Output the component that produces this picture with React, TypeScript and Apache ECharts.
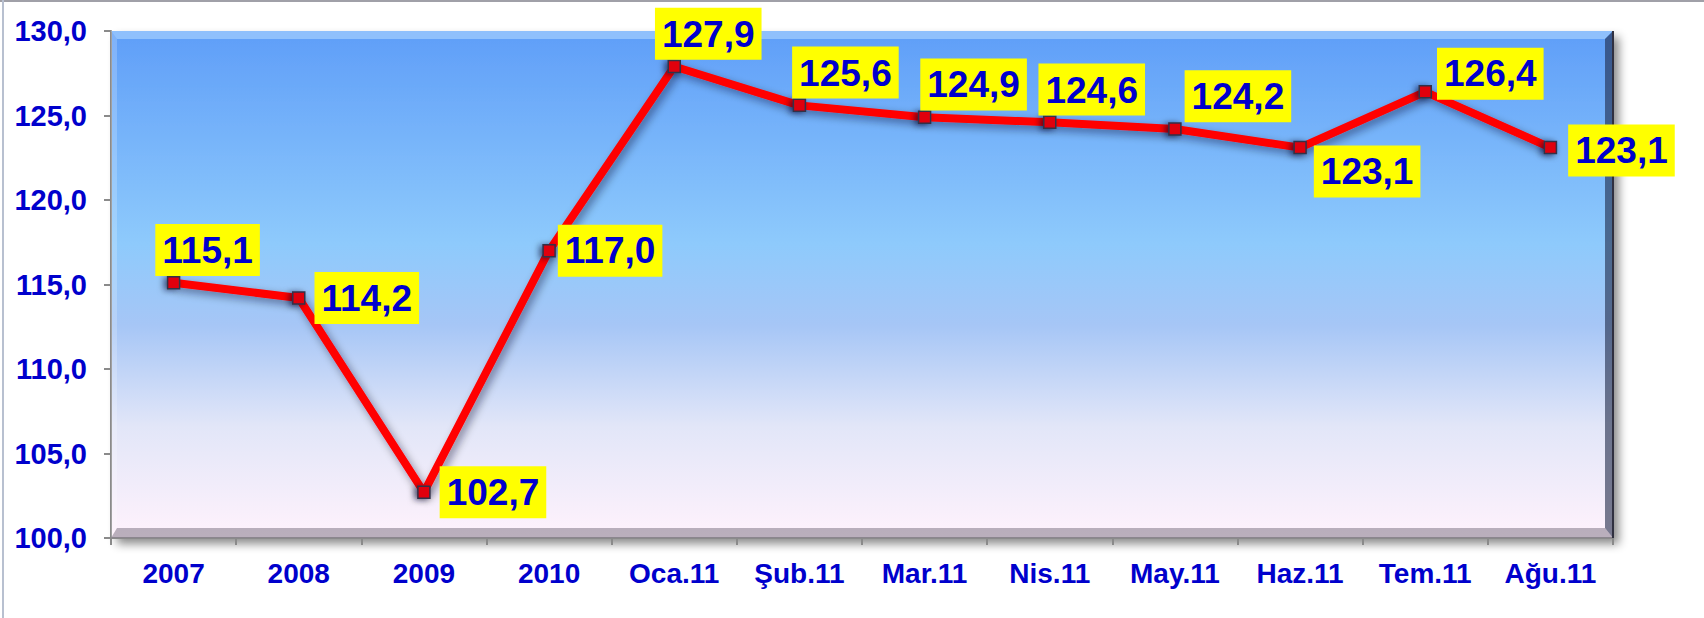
import React, { useEffect, useRef } from "react";
import * as echarts from "echarts";

const categories = ["2007", "2008", "2009", "2010", "Oca.11", "Şub.11", "Mar.11", "Nis.11", "May.11", "Haz.11", "Tem.11", "Ağu.11"];
const values = [115.1, 114.2, 102.7, 117.0, 127.9, 125.6, 124.9, 124.6, 124.2, 123.1, 126.4, 123.1];
const labelPlacement = ["top", "right", "right", "right", "top", "top", "top", "top", "top", "right", "right", "right"];
const labelShift: [number, number][] = [[34, 0], [0, 0], [0, 0], [-7, 0], [34, 0], [46, 0], [49, 0], [42, 0], [63, 0], [-2, 24], [-4, -18], [2, 3]];
const yTicks = { min: 100, max: 130, interval: 5 };

const fmt = (v: number) => v.toFixed(1).replace(".", ",");
const FONT = "'Liberation Sans', Arial, sans-serif";
const BLUE = "#0000CC";

function labelFor(kind: string) {
  return {
    show: true,
    color: BLUE,
    fontFamily: FONT,
    fontWeight: "bold",
    fontSize: 37,
    backgroundColor: "#FFFF00",
    padding: [7, 7, 6, 7],
    lineHeight: 39,
    position: kind,
    distance: kind === "top" ? 0 : 9,
    formatter: (p: any) => fmt(p.value),
  };
}

export default function App() {
  const ref = useRef<HTMLDivElement>(null);
  useEffect(() => {
    if (!ref.current) return;
    const chart = echarts.init(ref.current, undefined, { renderer: "svg" });
    const data = values.map((v, i) => ({ value: v, label: labelFor(labelPlacement[i]) }));
    const L = 111, T = 31, R = 1613, B = 538;
    chart.setOption({
      animation: false,
      backgroundColor: "#ffffff",
      grid: {
        left: L,
        top: T,
        right: 1704 - R,
        bottom: 618 - B,
        show: true,
        borderColor: "#8a8a90",
        borderWidth: 0,
        backgroundColor: new echarts.graphic.LinearGradient(0, 0, 0, 1, [
          { offset: 0, color: "#5f9ef8" },
          { offset: 0.42, color: "#8ecafc" },
          { offset: 0.58, color: "#a6c6f6" },
          { offset: 0.78, color: "#e2e6f8" },
          { offset: 1, color: "#fff2fc" },
        ]),
        shadowColor: "rgba(0,0,0,0.45)",
        shadowBlur: 10,
        shadowOffsetX: 6,
        shadowOffsetY: 6,
      },
      graphic: [
        { type: "line", shape: { x1: 0, y1: 1, x2: 1704, y2: 1 }, style: { stroke: "#a0a0a8", lineWidth: 2 } },
        { type: "line", shape: { x1: 3, y1: 0, x2: 3, y2: 618 }, style: { stroke: "#b8c0d0", lineWidth: 2 } },
        { type: "polygon", shape: { points: [[L, T], [R, T], [R - 8, T + 8], [L + 6, T + 8]] }, style: { fill: "rgba(175,215,255,0.6)" }, z: 1 },
        { type: "polygon", shape: { points: [[L, T], [L + 6, T + 8], [L + 6, B - 10], [L, B]] }, style: { fill: "rgba(255,255,255,0.2)" }, z: 1 },
        { type: "polygon", shape: { points: [[L, B], [L + 6, B - 10], [R - 8, B - 10], [R, B]] }, style: { fill: "rgba(140,130,145,0.6)" }, z: 1 },
        { type: "polygon", shape: { points: [[R, T], [R, B], [R - 8, B - 10], [R - 8, T + 8]] }, style: { fill: "rgba(30,40,70,0.6)" }, z: 1 },
        { type: "line", shape: { x1: R, y1: T, x2: R, y2: B }, style: { stroke: "#303040", lineWidth: 2 }, z: 1 },
      ],
      xAxis: {
        type: "category",
        data: categories,
        boundaryGap: true,
        axisLine: { show: true, lineStyle: { color: "#8a8a8a", width: 2 } },
        axisTick: { show: true, length: 7, lineStyle: { color: "#8a8a8a", width: 2 } },
        axisLabel: { color: BLUE, fontFamily: FONT, fontWeight: "bold", fontSize: 28, margin: 21 },
        splitLine: { show: false },
      },
      yAxis: {
        type: "value",
        min: yTicks.min,
        max: yTicks.max,
        interval: yTicks.interval,
        axisLine: { show: true, lineStyle: { color: "#8a8a8a", width: 2 } },
        axisTick: { show: true, length: 7, lineStyle: { color: "#8a8a8a", width: 2 } },
        axisLabel: { color: BLUE, fontFamily: FONT, fontWeight: "bold", fontSize: 29, margin: 24, formatter: (v: number) => fmt(v) },
        splitLine: { show: false },
      },
      series: [
        {
          type: "line",
          data,
          symbol: "rect",
          symbolSize: 12,
          z: 5,
          lineStyle: {
            color: "#ff0000",
            width: 8,
            shadowColor: "rgba(0,0,40,0.45)",
            shadowBlur: 8,
            shadowOffsetX: 3,
            shadowOffsetY: 4,
          },
          itemStyle: {
            color: "#e00010",
            borderColor: "#303048",
            borderWidth: 1.5,
            shadowColor: "rgba(0,0,40,0.6)",
            shadowBlur: 6,
            shadowOffsetX: -3,
            shadowOffsetY: 1,
          },
          labelLayout: (p: any) => {
            const s = labelShift[p.dataIndex] || [0, 0];
            return { dx: s[0], dy: s[1], hideOverlap: false };
          },
        },
      ],
    });
    return () => chart.dispose();
  }, []);
  return <div ref={ref} style={{ position: "fixed", left: 0, top: 0, width: 1704, height: 618 }} />;
}
